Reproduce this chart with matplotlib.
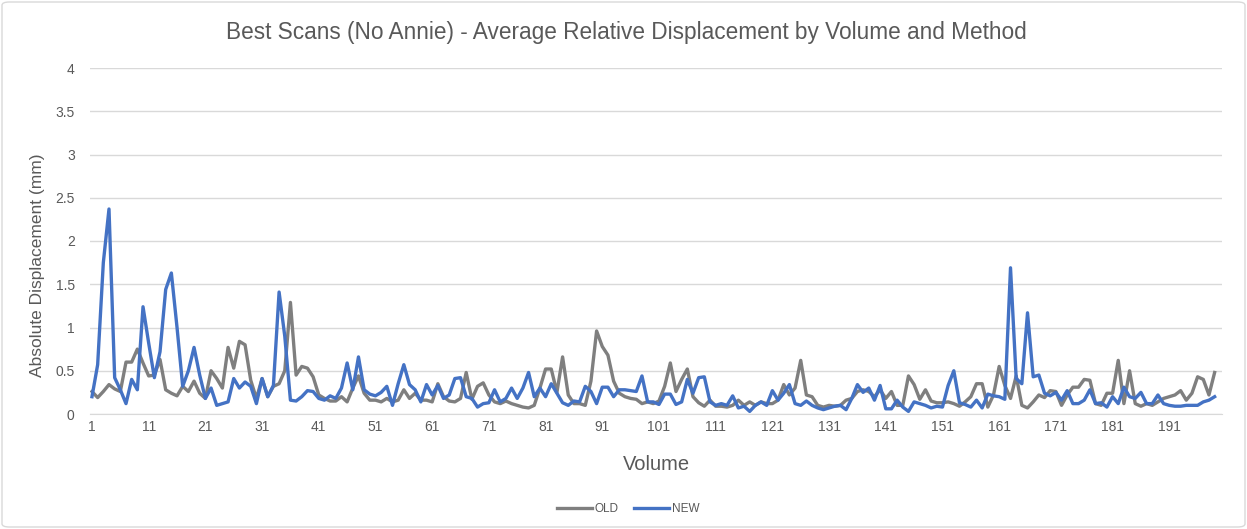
import matplotlib
matplotlib.use("Agg")
import matplotlib.pyplot as plt
from matplotlib.patches import FancyBboxPatch
import numpy as np

volumes = list(range(1, 200))

old_vals = [
    0.26, 0.19, 0.26, 0.34, 0.29, 0.26, 0.60, 0.60, 0.75, 0.59,
    0.44, 0.45, 0.63, 0.28, 0.24, 0.21, 0.32, 0.26, 0.38, 0.24,
    0.18, 0.50, 0.41, 0.30, 0.77, 0.53, 0.84, 0.80, 0.39, 0.18,
    0.41, 0.20, 0.32, 0.35, 0.50, 1.29, 0.45, 0.55, 0.53, 0.43,
    0.22, 0.18, 0.15, 0.15, 0.20, 0.14, 0.30, 0.44, 0.24, 0.16,
    0.16, 0.14, 0.18, 0.14, 0.16, 0.28, 0.18, 0.24, 0.16, 0.16,
    0.14, 0.35, 0.20, 0.15, 0.14, 0.18, 0.48, 0.17, 0.32, 0.36,
    0.22, 0.14, 0.12, 0.15, 0.12, 0.10, 0.08, 0.07, 0.10, 0.30,
    0.52, 0.52, 0.25, 0.66, 0.22, 0.12, 0.12, 0.10, 0.38, 0.96,
    0.78, 0.68, 0.38, 0.24, 0.20, 0.18, 0.17, 0.12, 0.14, 0.12,
    0.15, 0.32, 0.59, 0.26, 0.40, 0.52, 0.20, 0.13, 0.09, 0.16,
    0.09, 0.09, 0.08, 0.10, 0.16, 0.10, 0.14, 0.10, 0.14, 0.12,
    0.12, 0.16, 0.34, 0.22, 0.30, 0.62, 0.22, 0.20, 0.10, 0.08,
    0.10, 0.09, 0.10, 0.16, 0.18, 0.26, 0.28, 0.26, 0.20, 0.28,
    0.18, 0.26, 0.10, 0.10, 0.44, 0.34, 0.17, 0.28, 0.15, 0.13,
    0.13, 0.14, 0.12, 0.09, 0.14, 0.20, 0.35, 0.35, 0.08, 0.22,
    0.55, 0.33, 0.18, 0.44, 0.10, 0.07, 0.14, 0.22, 0.19, 0.27,
    0.26, 0.10, 0.22, 0.31, 0.31, 0.40, 0.39, 0.12, 0.10, 0.24,
    0.24, 0.62, 0.12, 0.50, 0.12, 0.09, 0.12, 0.10, 0.14, 0.18,
    0.20, 0.22, 0.27, 0.16, 0.24, 0.43, 0.40, 0.22, 0.48,
]

new_vals = [
    0.20, 0.57, 1.75, 2.37, 0.42, 0.28, 0.12, 0.40, 0.28, 1.24,
    0.82, 0.42, 0.72, 1.44, 1.63, 1.00, 0.32, 0.50, 0.77, 0.45,
    0.18, 0.30, 0.10, 0.12, 0.14, 0.41, 0.30, 0.37, 0.32, 0.12,
    0.41, 0.20, 0.33, 1.41, 0.90, 0.16, 0.15, 0.20, 0.27, 0.26,
    0.18, 0.16, 0.21, 0.18, 0.30, 0.59, 0.28, 0.66, 0.28, 0.23,
    0.21, 0.25, 0.32, 0.10, 0.35, 0.57, 0.34, 0.28, 0.14, 0.34,
    0.22, 0.33, 0.18, 0.22, 0.41, 0.42, 0.20, 0.18, 0.08, 0.12,
    0.13, 0.28, 0.14, 0.18, 0.30, 0.18, 0.30, 0.48, 0.20, 0.30,
    0.20, 0.35, 0.24, 0.13, 0.10, 0.15, 0.14, 0.32, 0.26, 0.12,
    0.31, 0.31, 0.20, 0.28, 0.28, 0.27, 0.26, 0.44, 0.14, 0.14,
    0.11, 0.23, 0.23, 0.11, 0.14, 0.40, 0.24, 0.42, 0.43, 0.14,
    0.10, 0.12, 0.10, 0.21, 0.07, 0.09, 0.03, 0.10, 0.14, 0.10,
    0.27, 0.16, 0.24, 0.34, 0.12, 0.10, 0.15, 0.10, 0.07, 0.05,
    0.07, 0.09, 0.10, 0.05, 0.18, 0.34, 0.25, 0.30, 0.16, 0.33,
    0.06, 0.06, 0.16, 0.08, 0.03, 0.14, 0.12, 0.10, 0.07, 0.09,
    0.08, 0.33, 0.50, 0.13, 0.11, 0.08, 0.16, 0.07, 0.23, 0.21,
    0.20, 0.17, 1.69, 0.41, 0.35, 1.17, 0.43, 0.45, 0.24, 0.21,
    0.25, 0.16, 0.27, 0.12, 0.12, 0.16, 0.28, 0.12, 0.13, 0.08,
    0.20, 0.12, 0.31, 0.20, 0.18, 0.25, 0.12, 0.12, 0.22, 0.12,
    0.10, 0.09, 0.09, 0.10, 0.10, 0.10, 0.14, 0.16, 0.20,
]

x_ticks = list(range(1, 200, 10))
y_ticks = [0, 0.5, 1, 1.5, 2, 2.5, 3, 3.5, 4]

title = "Best Scans (No Annie) - Average Relative Displacement by Volume and Method"
series_names = ["OLD", "NEW"]
colors = ["#7f7f7f", "#4472c4"]

plt.rcParams['font.family'] = ['Liberation Sans', 'DejaVu Sans']
text_color = "#595959"

W, H = 1247, 529
fig = plt.figure(figsize=(W / 100, H / 100), dpi=100)
fig.patch.set_facecolor("white")

# outer chart border
border = FancyBboxPatch((2 / W, 2 / H), 1 - 4 / W, 1 - 4 / H,
                        boxstyle="round,pad=0,rounding_size=0.006",
                        transform=fig.transFigure, fill=False,
                        edgecolor="#d9d9d9", linewidth=1.0)
fig.patches.append(border)

left_px, right_px = 90, 1222
bottom_px, top_px = 414, 68
ax = fig.add_axes([left_px / W, 1 - bottom_px / H,
                   (right_px - left_px) / W, (bottom_px - top_px) / H])

ax.plot(volumes, old_vals, color=colors[0], linewidth=2.4, label=series_names[0],
        solid_joinstyle="round")
ax.plot(volumes, new_vals, color=colors[1], linewidth=2.4, label=series_names[1],
        solid_joinstyle="round")

ax.set_xlim(0.65, 200.3)
ax.set_ylim(0, 4)
ax.set_yticks(y_ticks)
ax.set_yticklabels([("%g" % v) for v in y_ticks])
ax.set_xticks(x_ticks)
ax.set_xticklabels([str(v) for v in x_ticks])
ax.grid(axis="y", color="#d9d9d9", linewidth=1.0)
ax.set_axisbelow(True)
for s in ["top", "right", "left"]:
    ax.spines[s].set_visible(False)
ax.spines["bottom"].set_color("#d9d9d9")
ax.tick_params(axis="both", length=0, labelsize=10, colors=text_color)
ax.tick_params(axis="y", pad=11)
ax.tick_params(axis="x", pad=4)

ax.set_xlabel("Volume", fontsize=14.5, color=text_color)
ax.xaxis.set_label_coords((656 - left_px) / (right_px - left_px),
                          -(464 - bottom_px) / (bottom_px - top_px))
ax.xaxis.label.set_va("center")
ax.set_ylabel("Absolute Displacement (mm)", fontsize=12.5, color=text_color)
ax.yaxis.set_label_coords(-(left_px - 38) / (right_px - left_px),
                          (bottom_px - 265) / (bottom_px - top_px))
ax.yaxis.label.set_va("center")

fig.text(626 / W, 1 - 33 / H, title, ha="center", va="center",
         fontsize=16.3, color=text_color)

leg = fig.legend(loc="center", bbox_to_anchor=(628 / W, 1 - 509 / H), ncol=2,
                 frameon=False, fontsize=8.5, handlelength=3.0, handletextpad=0.2,
                 columnspacing=1.3, labelcolor=text_color)

fig.savefig("out.png", dpi=100, facecolor="white")
